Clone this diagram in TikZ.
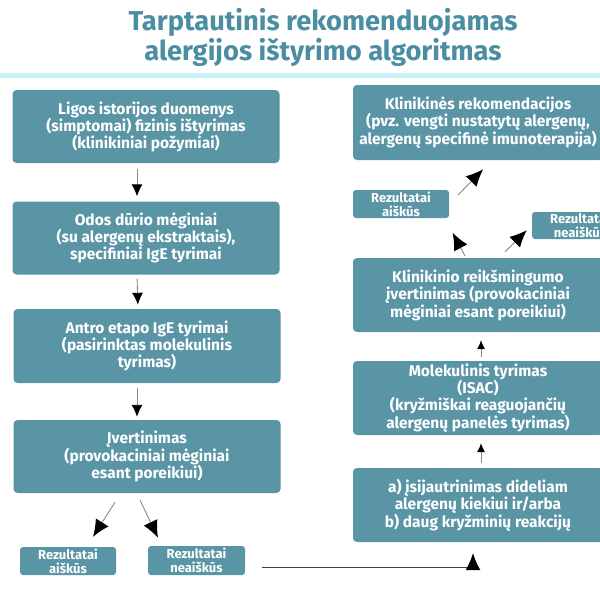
\documentclass[tikz,border=0pt]{standalone}
\usepackage{fontspec}
\setmainfont{Fira Sans}
\usetikzlibrary{arrows.meta}
\definecolor{boxc}{HTML}{5A95A6}
\definecolor{titlec}{HTML}{4B8EA2}
\definecolor{cyanline}{HTML}{C8F2F6}
\definecolor{linec}{HTML}{8A8A8A}
\tikzset{
  bigbox/.style={fill=boxc, rounded corners=4pt, text=white, align=center,
    font=\bfseries\fontsize{15.5}{17}\selectfont, inner sep=0pt, minimum height=73pt},
  lbox/.style={bigbox, minimum width=267pt},
  rbox/.style={bigbox, minimum width=250pt},
  smallbox/.style={fill=boxc, rounded corners=3pt, text=white, align=center,
    font=\bfseries\fontsize{13}{14}\selectfont, inner sep=0pt, minimum width=96pt, minimum height=28pt},
  conn/.style={draw=linec, line width=0.9pt},
  bigtip/.style={conn, -{Latex[length=17pt,width=15pt,fill=black,color=black]}},
  midtip/.style={conn, -{Latex[length=12pt,width=11pt,fill=black,color=black]}},
  smalltip/.style={conn, -{Latex[length=9pt,width=8pt,fill=black,color=black]}},
}
\begin{document}
\begin{tikzpicture}[x=1pt,y=-1pt]
\useasboundingbox (0,0) rectangle (600,600);
\fill[white] (0,0) rectangle (600,600);
\clip (0,0) rectangle (600,600);
% title
\node[text=titlec, font=\bfseries\fontsize{27.3}{30}\selectfont, align=center] (title) at (323,37)
  {Tarptautinis rekomenduojamas\\alergijos ištyrimo algoritmas};
\fill[cyanline] (0,73) rectangle (600,78);
% left column
\node[lbox] (L1) at (146,126.5) {Ligos istorijos duomenys\\(simptomai) fizinis ištyrimas\\(klinikiniai požymiai)};
\node[lbox] (L2) at (146,238) {Odos dūrio mėginiai\\(su alergenų ekstraktais),\\specifiniai IgE tyrimai};
\node[lbox, minimum height=74pt] (L3) at (147,346) {Antro etapo IgE tyrimai\\(pasirinktas molekulinis\\tyrimas)};
\node[lbox] (L4) at (147,456.5) {Įvertinimas\\(provokaciniai mėginiai\\esant poreikiui)};
\node[smallbox] (S1) at (68,561) {Rezultatai\\aiškūs};
\node[smallbox, minimum width=97pt, minimum height=29pt] (S2) at (196.5,560.5) {Rezultatai\\neaiškūs};
% right column
\node[rbox, minimum height=75pt] (R1) at (478,122.5) {Klinikinės rekomendacijos\\(pvz. vengti nustatytų alergenų,\\alergenų specifinė imunoterapija)};
\node[smallbox] (RS1) at (401,204) {Rezultatai\\aiškūs};
\node[smallbox, minimum height=27pt] (RS2) at (580,225.5) {Rezultatai\\neaiškūs};
\node[rbox, minimum height=74pt] (R2) at (478,295) {Klinikinio reikšmingumo\\įvertinimas (provokaciniai\\mėginiai esant poreikiui)};
\node[rbox, minimum height=74pt] (R3) at (478,398) {Molekulinis tyrimas\\(ISAC)\\(kryžmiškai reaguojančių\\alergenų panelės tyrimas)};
\node[rbox, minimum height=74pt] (R4) at (478,505) {a) įsijautrinimas dideliam\\alergenų kiekiui ir/arba\\b) daug kryžminių reakcijų};
% left arrows
\draw[midtip, shorten <=5.5pt, shorten >=5pt] ([xshift=-9pt]L1.south) -- ([xshift=-9pt]L2.north);
\draw[midtip, shorten <=4pt, shorten >=4pt] ([xshift=-9pt]L2.south) -- ([xshift=-9pt]L3.north);
\draw[midtip, shorten <=5pt, shorten >=3pt] ([xshift=-10pt]L3.south) -- ([xshift=-10pt]L4.north);
\draw[bigtip, shorten <=10.6pt, shorten >=11.8pt] ([xshift=-26.3pt]L4.south) -- ([xshift=18.7pt]S1.north);
\draw[bigtip, shorten <=7.7pt, shorten >=8.9pt] ([xshift=-10.3pt]L4.south) -- ([xshift=-34.7pt]S2.north);
\draw[draw=black!75, line width=0.9pt, -{Latex[length=17pt,width=15pt,fill=black,color=black]}, shorten >=11pt]
  ([xshift=17pt,yshift=-6.5pt]S2.east) -| ([xshift=-5pt]R4.south);
% right arrows
\draw[smalltip, shorten <=5pt, shorten >=8pt] ([xshift=3pt]R4.north) -- ([xshift=3pt]R3.south);
\draw[smalltip, shorten <=4pt, shorten >=8pt] ([xshift=3pt]R3.north) -- ([xshift=3pt]R2.south);
\draw[bigtip, shorten <=2.2pt, shorten >=16.6pt] ([xshift=-12pt]R2.north) -- ([xshift=43.8pt]RS1.south);
\draw[bigtip, shorten <=8.5pt] ([xshift=21pt]R2.north) -- ([xshift=-5pt,yshift=9pt]RS2.south west);
\draw[bigtip, shorten <=12.7pt, shorten >=12.7pt] (RS1.east) -- ([xshift=14pt]R1.south);
\end{tikzpicture}
\end{document}
